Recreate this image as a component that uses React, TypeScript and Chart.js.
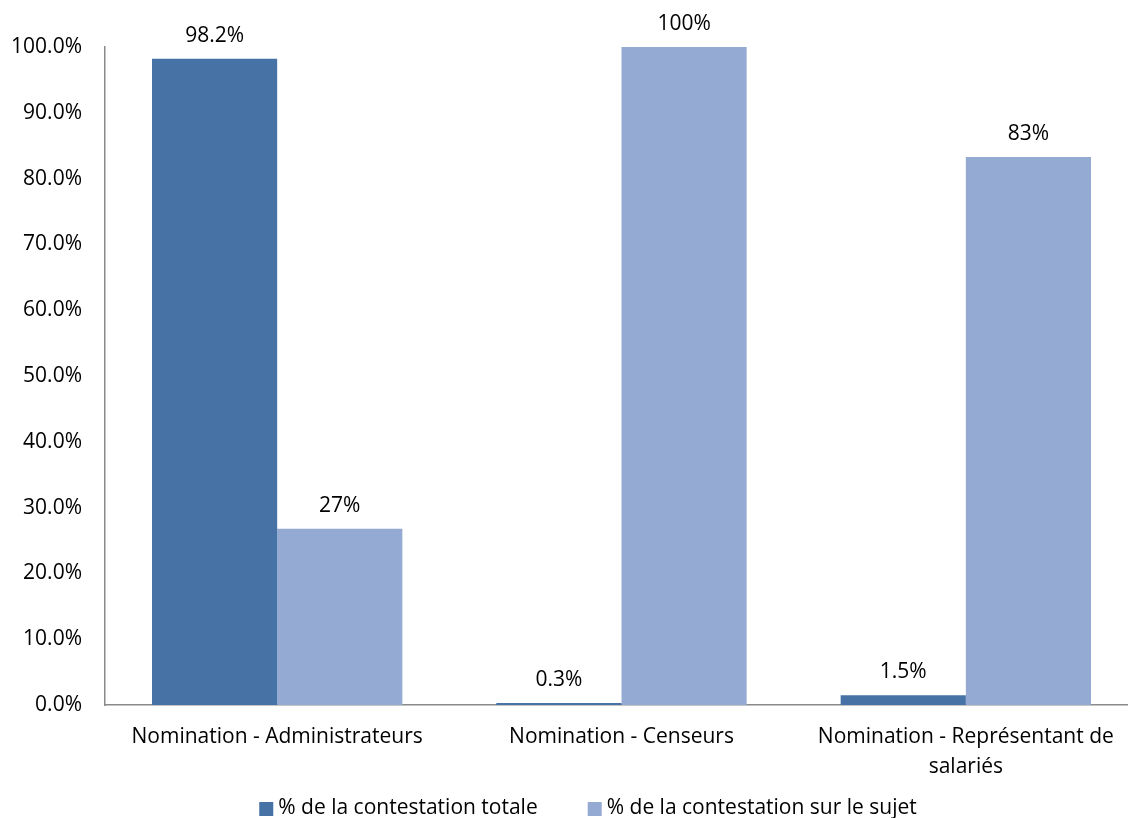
import { useEffect, useRef } from "react";
import { Chart, registerables } from "chart.js";

Chart.register(...registerables);

// Categories (multi-line where the label wraps)
const categories: string[][] = [
  ["Nomination - Administrateurs"],
  ["Nomination - Censeurs"],
  ["Nomination - Représentant de", "salariés"],
];

const seriesNames = ["% de la contestation totale", "% de la contestation sur le sujet"];

// Share of total contestation (%)
const totalShare = [98.2, 0.3, 1.5];
// Share of contestation on the topic (%)
const topicShare = [26.8, 100, 83.3];

// Decimals shown on each series' value labels
const labelDecimals = [1, 0];

const yTicks = [0, 10, 20, 30, 40, 50, 60, 70, 80, 90, 100];

const FONT = "'Open Sans', sans-serif";
const FONT_SIZE = 21;
const COLORS = ["#4672A6", "#95AAD2"];
const AXIS_COLOR = "#8a8a8a";

const valueLabels = {
  id: "valueLabels",
  afterDatasetsDraw(chart: any) {
    const ctx = chart.ctx;
    ctx.save();
    ctx.font = `${FONT_SIZE}px ${FONT}`;
    ctx.fillStyle = "#000";
    ctx.textAlign = "center";
    ctx.textBaseline = "alphabetic";
    chart.data.datasets.forEach((ds: any, di: number) => {
      const meta = chart.getDatasetMeta(di);
      meta.data.forEach((bar: any, i: number) => {
        const v = ds.data[i] as number;
        ctx.fillText(v.toFixed(labelDecimals[di]) + "%", bar.x, bar.y - 17);
      });
    });
    ctx.restore();
  },
};

// Legend row under the axis labels, slightly right of the canvas centre
const bottomLegend = {
  id: "bottomLegend",
  afterDraw(chart: any) {
    const ctx = chart.ctx;
    ctx.save();
    ctx.font = `${FONT_SIZE}px ${FONT}`;
    const box = 14;
    const boxGap = 5;
    const itemGap = 50;
    const widths = seriesNames.map((n) => ctx.measureText(n).width);
    const total = widths.reduce((a, w) => a + box + boxGap + w, 0) + itemGap * (seriesNames.length - 1);
    let x = chart.width / 2 + 18 - total / 2;
    const cy = 808;
    ctx.textBaseline = "middle";
    ctx.textAlign = "left";
    seriesNames.forEach((n, i) => {
      ctx.fillStyle = COLORS[i];
      ctx.fillRect(x, cy - box / 2 + 1, box, box);
      x += box + boxGap;
      ctx.fillStyle = "#000";
      ctx.fillText(n, x, cy);
      x += widths[i] + itemGap;
    });
    ctx.restore();
  },
};

export default function App() {
  const ref = useRef<HTMLCanvasElement>(null);

  useEffect(() => {
    if (!ref.current) return;
    const chart = new Chart(ref.current, {
      type: "bar",
      data: {
        labels: categories,
        datasets: [
          { label: seriesNames[0], data: totalShare, backgroundColor: COLORS[0] },
          { label: seriesNames[1], data: topicShare, backgroundColor: COLORS[1] },
        ],
      },
      options: {
        responsive: false,
        animation: false,
        devicePixelRatio: 1,
        layout: { padding: { top: 47, right: 2, left: 0, bottom: 0 } },
        datasets: { bar: { categoryPercentage: 0.727, barPercentage: 1 } },
        plugins: {
          legend: { display: false },
          tooltip: { enabled: false },
        },
        scales: {
          x: {
            grid: { display: false, drawTicks: false },
            border: { display: true, color: AXIS_COLOR, width: 1.5 },
            ticks: {
              color: "#000",
              font: { family: FONT, size: FONT_SIZE, lineHeight: 1.43 },
              padding: 17,
              maxRotation: 0,
              autoSkip: false,
            },
            afterFit(scale: any) {
              scale.height = 113;
            },
          },
          y: {
            min: 0,
            max: 100,
            grid: { display: false, drawTicks: false },
            border: { display: true, color: AXIS_COLOR, width: 1.5 },
            afterBuildTicks(scale: any) {
              scale.ticks = yTicks.map((v) => ({ value: v }));
            },
            ticks: {
              color: "#000",
              font: { family: FONT, size: FONT_SIZE },
              padding: 23,
              callback: (v: any) => Number(v).toFixed(1) + "%",
            },
            afterFit(scale: any) {
              scale.width = 105;
            },
          },
        },
      },
      plugins: [valueLabels, bottomLegend],
    });
    return () => chart.destroy();
  }, []);

  return (
    <div style={{ position: "absolute", left: 0, top: 0, width: 1128, height: 818, overflow: "hidden", background: "#fff" }}>
      <canvas ref={ref} width={1140} height={818} />
    </div>
  );
}
